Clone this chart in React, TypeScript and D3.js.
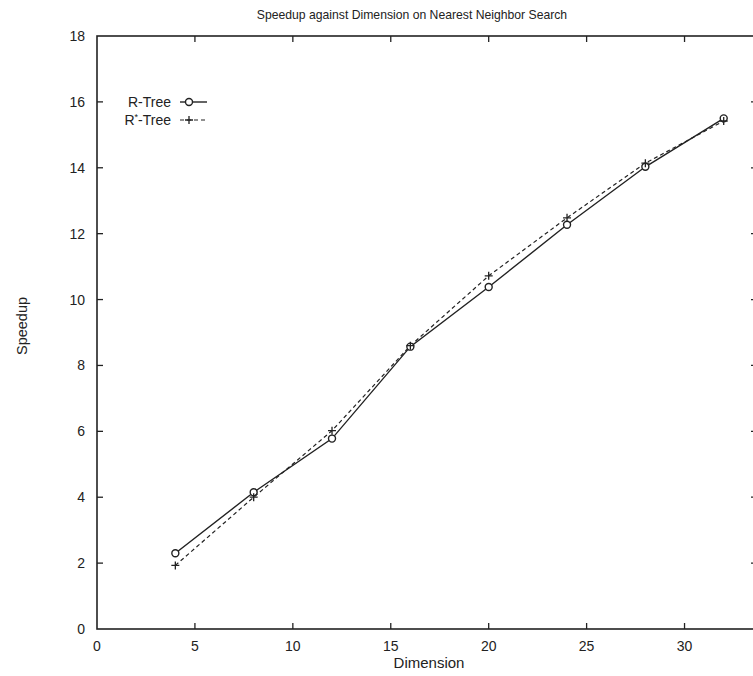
import React, { useEffect, useRef } from "react";
import * as d3 from "d3";

const dimensions = [4, 8, 12, 16, 20, 24, 28, 32];
const rTree = [2.3, 4.15, 5.78, 8.57, 10.38, 12.27, 14.03, 15.5];
const rStarTree = [1.93, 4.0, 6.02, 8.6, 10.72, 12.48, 14.14, 15.42];
const xTicks = [0, 5, 10, 15, 20, 25, 30];
const yTicks = [0, 2, 4, 6, 8, 10, 12, 14, 16, 18];
const title = "Speedup against Dimension on Nearest Neighbor Search";
const xLabel = "Dimension";
const yLabel = "Speedup";

const W = 753, H = 676;
const L = 97, R = 757, T = 36, B = 629;
const FONT = "'Liberation Sans', Arial, Helvetica, sans-serif";
const INK = "#222";

export default function App() {
  const ref = useRef<SVGSVGElement>(null);
  useEffect(() => {
    const svg = d3.select(ref.current);
    svg.selectAll("*").remove();
    const x = d3.scaleLinear().domain([0, 33.7]).range([L, R]);
    const y = d3.scaleLinear().domain([0, 18]).range([B, T]);
    svg.append("rect").attr("width", W).attr("height", H).attr("fill", "#fff");

    const g = svg.append("g");
    g.append("rect").attr("x", L).attr("y", T).attr("width", R - L).attr("height", B - T)
      .attr("fill", "none").attr("stroke", INK).attr("stroke-width", 1.6);
    const tl = 6;
    xTicks.forEach(t => {
      if (t === 0) return;
      g.append("line").attr("x1", x(t)).attr("x2", x(t)).attr("y1", B).attr("y2", B - tl).attr("stroke", INK).attr("stroke-width", 1.3);
      g.append("line").attr("x1", x(t)).attr("x2", x(t)).attr("y1", T).attr("y2", T + tl).attr("stroke", INK).attr("stroke-width", 1.3);
    });
    xTicks.forEach(t => {
      g.append("text").attr("x", x(t)).attr("y", B + 22).attr("text-anchor", "middle")
        .attr("font-family", FONT).attr("font-size", 14).attr("fill", INK).text(String(t));
    });
    yTicks.forEach(t => {
      if (t !== 0 && t !== 18) {
        g.append("line").attr("x1", L).attr("x2", L + tl).attr("y1", y(t)).attr("y2", y(t)).attr("stroke", INK).attr("stroke-width", 1.3);
        g.append("line").attr("x1", R).attr("x2", R - tl).attr("y1", y(t)).attr("y2", y(t)).attr("stroke", INK).attr("stroke-width", 1.3);
      }
      g.append("text").attr("x", L - 12).attr("y", y(t) + 5).attr("text-anchor", "end")
        .attr("font-family", FONT).attr("font-size", 14).attr("fill", INK).text(String(t));
    });

    svg.append("text").attr("x", 412).attr("y", 19).attr("text-anchor", "middle")
      .attr("font-family", FONT).attr("font-size", 12.2).attr("fill", INK).text(title);
    svg.append("text").attr("x", 429).attr("y", 668).attr("text-anchor", "middle")
      .attr("font-family", FONT).attr("font-size", 15).attr("fill", INK).text(xLabel);
    svg.append("text").attr("transform", "translate(27,326) rotate(-90)").attr("text-anchor", "middle")
      .attr("font-family", FONT).attr("font-size", 14.5).attr("fill", INK).text(yLabel);

    const line = d3.line<[number, number]>().x(d => x(d[0])).y(d => y(d[1]));
    const dataR = dimensions.map((d, i) => [d, rTree[i]] as [number, number]);
    const dataS = dimensions.map((d, i) => [d, rStarTree[i]] as [number, number]);
    g.append("path").attr("d", line(dataR)!).attr("fill", "none").attr("stroke", INK).attr("stroke-width", 1.4);
    g.append("path").attr("d", line(dataS)!).attr("fill", "none").attr("stroke", INK).attr("stroke-width", 1.2).attr("stroke-dasharray", "4,3");

    const marker = (cx: number, cy: number) => {
      g.append("circle").attr("cx", cx).attr("cy", cy).attr("r", 3.5)
        .attr("fill", "#fff").attr("stroke", INK).attr("stroke-width", 1.4);
    };
    const plus = (cx: number, cy: number) => {
      g.append("path").attr("d", `M${cx - 4},${cy}H${cx + 4}M${cx},${cy - 4}V${cy + 4}`)
        .attr("stroke", INK).attr("stroke-width", 1.3).attr("fill", "none");
    };
    dataR.forEach(d => marker(x(d[0]), y(d[1])));
    dataS.forEach(d => plus(x(d[0]), y(d[1])));

    const ly1 = 102, ly2 = 120;
    g.append("text").attr("x", 171).attr("y", ly1 + 5).attr("text-anchor", "end")
      .attr("font-family", FONT).attr("font-size", 14).attr("fill", INK).text("R-Tree");
    const t2 = g.append("text").attr("x", 171).attr("y", ly2 + 5).attr("text-anchor", "end")
      .attr("font-family", FONT).attr("font-size", 14).attr("fill", INK);
    t2.append("tspan").text("R");
    t2.append("tspan").attr("dy", -5).attr("font-size", 9).text("*");
    t2.append("tspan").attr("dy", 5).text("-Tree");
    g.append("line").attr("x1", 180).attr("x2", 207).attr("y1", ly1).attr("y2", ly1).attr("stroke", INK).attr("stroke-width", 1.4);
    marker(189, ly1);
    g.append("line").attr("x1", 180).attr("x2", 207).attr("y1", ly2).attr("y2", ly2).attr("stroke", INK).attr("stroke-width", 1.2).attr("stroke-dasharray", "4,3");
    plus(189, ly2);
  }, []);
  return (
    <svg ref={ref} width={W} height={H} style={{ position: "absolute", left: 0, top: 0, display: "block" }} />
  );
}
